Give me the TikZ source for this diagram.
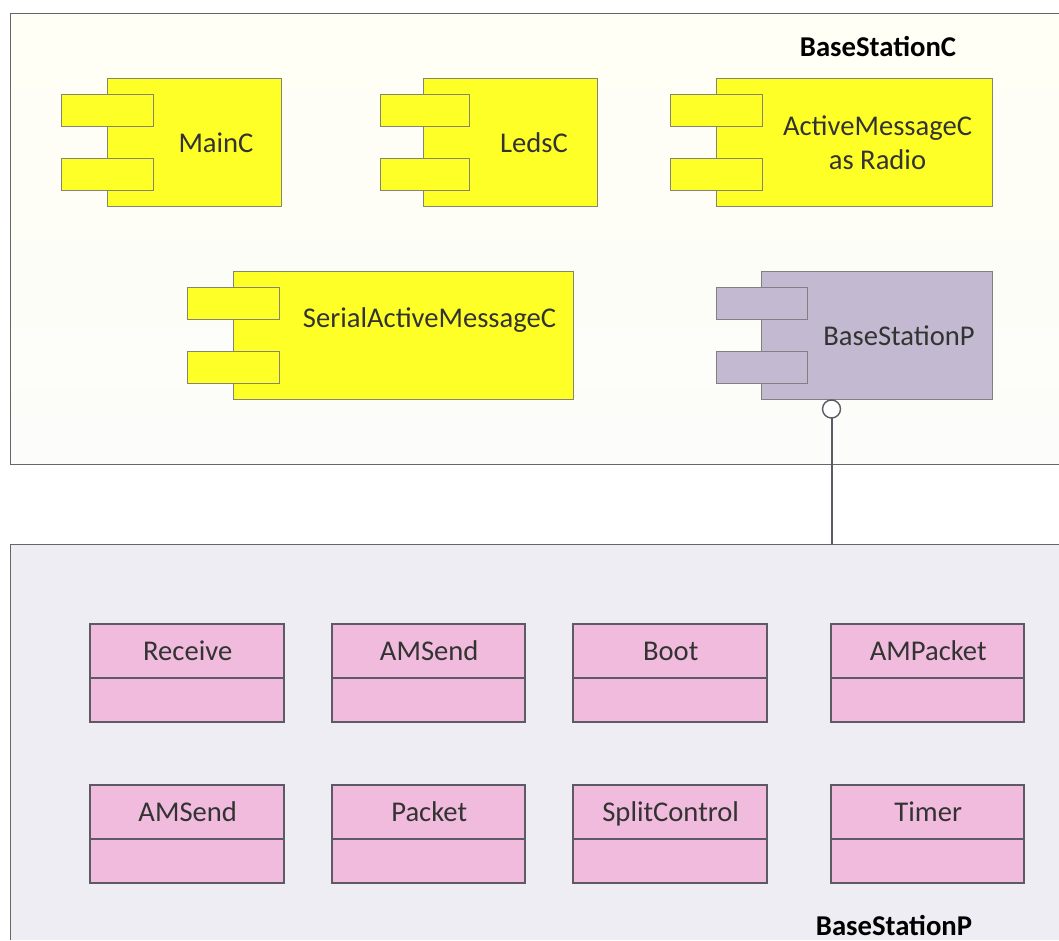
\documentclass[tikz,border=0pt]{standalone}
\usepackage{fontspec}
\setmainfont{Carlito}
\definecolor{txt}{HTML}{333333}
\definecolor{edgeg}{HTML}{868670}
\definecolor{frameg}{HTML}{666666}
\definecolor{yel}{HTML}{FFFF28}
\definecolor{lil}{HTML}{C3B9D1}
\definecolor{pnk}{HTML}{F0BBDC}
\definecolor{pnkline}{HTML}{5C5A64}
\definecolor{pale}{HTML}{EEEDF4}
\definecolor{creamtop}{HTML}{FFFFF5}
\definecolor{creambot}{HTML}{FCFCFA}
\tikzset{
  every node/.style={inner sep=0pt,outer sep=0pt,text=txt},
  bx/.style={rectangle,draw=edgeg,line width=1pt},
  yelbox/.style={bx,fill=yel},
  lilbox/.style={bx,fill=lil,draw=gray},
  classbox/.style={rectangle,draw=pnkline,fill=pnk,line width=2.5pt},
  lab/.style={font=\fontsize{28.6}{34}\selectfont,align=center},
  classlab/.style={font=\fontsize{28.6}{34}\selectfont},
  title/.style={font=\fontsize{28.7}{34}\selectfont\bfseries,text=black},
  frame/.style={draw=frameg,line width=1pt},
  lolli/.style={circle,draw=pnkline,fill=white,line width=1.4pt,minimum size=18pt},
  link/.style={draw=pnkline,line width=2pt}
}
\newcommand{\bx}[6]{\node[#2,minimum width={(#5-(#3))*1pt},minimum height={(#6-(#4))*1pt}] (#1) at ({(#3+#5)/2},{(#4+#6)/2}) {};}
\newcommand{\comp}[7]{% name style bodyx0 bodyx1 tabx0 tabx1 y0
  \bx{#1}{#2}{#3}{#7}{#4}{#7+128}
  \bx{#1t1}{#2}{#5}{#7+16}{#6}{#7+48}
  \bx{#1t2}{#2}{#5}{#7+80}{#6}{#7+112}
}
\newcommand{\cls}[5]{% name x0 x1 y0 label
  \bx{#1}{classbox}{#2}{#4}{#3}{#4+98}
  \draw[draw=pnkline,line width=2.5pt] (#2,#4+54) -- (#3,#4+54);
  \node[classlab,anchor=base] (#1l) at ({(#2+#3)/2+0.7},#4+36) {#5};
}
\begin{document}
\begin{tikzpicture}[x=1pt,y=-1pt]
\useasboundingbox (0,0) rectangle (1059,940);
% containers
\node[rectangle,minimum width=1049pt,minimum height=451pt,top color=creamtop,bottom color=creambot,anchor=north west] (cont1) at (10,13) {};
\node[rectangle,minimum width=1049pt,minimum height=396pt,fill=pale,anchor=north west] (cont2) at (10,544) {};
\draw[frame] (cont1.north east) -- (cont1.north west) -- (cont1.south west) -- (cont1.south east);
\draw[frame] (cont2.north east) -- (cont2.north west) -- (cont2.south west);
% components
\comp{main}{yelbox}{107}{281}{61}{153}{78}
\comp{leds}{yelbox}{423}{597}{380}{469}{78}
\comp{active}{yelbox}{716}{992}{670}{762}{78}
\comp{serial}{yelbox}{233}{573}{187}{279}{271}
\comp{bsp}{lilbox}{761}{992}{716}{807}{271}
\node[lab,anchor=base] (mainl) at (216,152.5) {MainC};
\node[lab,anchor=base] (ledsl) at (534,152.5) {LedsC};
\node[lab] (activel) at (877.5,142.5) {ActiveMessageC\\as Radio};
\node[lab,anchor=base] (seriall) at (429.5,327.5) {SerialActiveMessageC};
\node[lab,anchor=base] (bspl) at (899,345.5) {BaseStationP};
% lollipop
\node[lolli] (lol) at (831.5,409) {};
\draw[link] (lol.south) -- (lol.south |- cont2.north);
% classes
\cls{c1}{90}{284}{624}{Receive}
\cls{c2}{332}{525}{624}{AMSend}
\cls{c3}{573}{767}{624}{Boot}
\cls{c4}{831}{1024}{624}{AMPacket}
\cls{c5}{90}{284}{785}{AMSend}
\cls{c6}{332}{525}{785}{Packet}
\cls{c7}{573}{767}{785}{SplitControl}
\cls{c8}{831}{1024}{785}{Timer}
% titles
\node[title,anchor=base] (t1) at (878,56) {BaseStationC};
\node[title,anchor=base] (t2) at (894,935.5) {BaseStationP};
\end{tikzpicture}
\end{document}
